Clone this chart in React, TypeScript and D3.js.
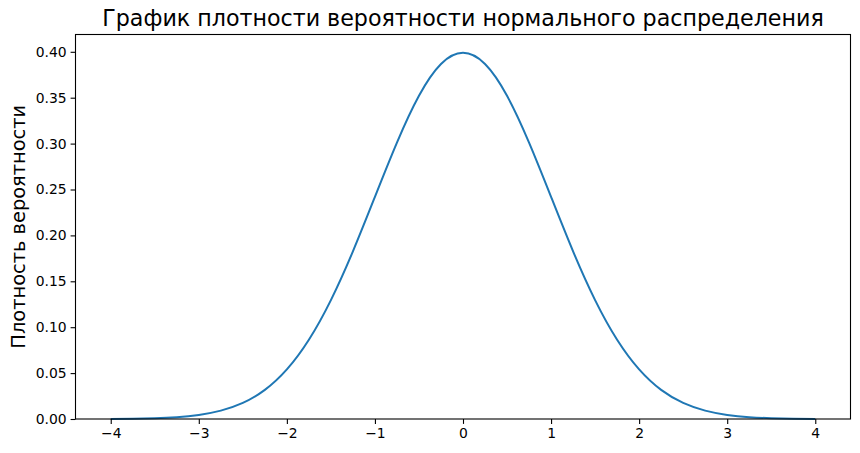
import React, { useRef, useEffect } from "react";
import * as d3 from "d3";

// values, step 0.25
const xValues = [
  -4, -3.75, -3.5, -3.25, -3, -2.75, -2.5, -2.25, -2, -1.75, -1.5, -1.25, -1, -0.75, -0.5, -0.25,
  0, 0.25, 0.5, 0.75, 1, 1.25, 1.5, 1.75, 2, 2.25, 2.5, 2.75, 3, 3.25, 3.5, 3.75, 4,
];
const density = [
  0.0001, 0.0004, 0.0009, 0.002, 0.0044, 0.0091, 0.0175, 0.0317, 0.054, 0.0863, 0.1295, 0.1826,
  0.242, 0.3011, 0.3521, 0.3867, 0.3989, 0.3867, 0.3521, 0.3011, 0.242, 0.1826, 0.1295, 0.0863,
  0.054, 0.0317, 0.0175, 0.0091, 0.0044, 0.002, 0.0009, 0.0004, 0.0001,
];
const xTicks = [-4, -3, -2, -1, 0, 1, 2, 3, 4];
const yTicks = [0, 0.05, 0.1, 0.15, 0.2, 0.25, 0.3, 0.35, 0.4];

const title = "График плотности вероятности нормального распределения";
const yLabel = "Плотность вероятности";

const App = () => {
  const svgRef = useRef<SVGSVGElement>(null);

  useEffect(() => {
    const width = 860;
    const height = 453;
    const margin = { top: 34.5, right: 9.5, bottom: 34, left: 75.5 };
    const font = "DejaVu Sans, sans-serif";

    const svg = d3.select(svgRef.current);
    svg.selectAll("*").remove();
    svg.attr("width", width).attr("height", height);

    const x = d3.scaleLinear().domain([-4.4, 4.4]).range([margin.left, width - margin.right]);
    const y = d3
      .scaleLinear()
      .domain([0, 0.3989 * 1.05])
      .range([height - margin.bottom, margin.top]);

    const line = d3
      .line<number>()
      .x((d, i) => x(xValues[i]))
      .y((d) => y(d))
      .curve(d3.curveNatural);

    svg
      .append("path")
      .datum(density)
      .attr("d", line)
      .attr("fill", "none")
      .attr("stroke", "#1f77b4")
      .attr("stroke-width", 2);

    const xAxis = svg
      .append("g")
      .attr("transform", `translate(0,${height - margin.bottom})`)
      .call(
        d3
          .axisBottom(x)
          .tickValues(xTicks)
          .tickFormat(d3.format("d"))
          .tickSizeInner(4.9)
          .tickSizeOuter(0)
          .tickPadding(4)
      );
    const yAxis = svg
      .append("g")
      .attr("transform", `translate(${margin.left},0)`)
      .call(
        d3
          .axisLeft(y)
          .tickValues(yTicks)
          .tickFormat(d3.format(".2f"))
          .tickSizeInner(4.9)
          .tickSizeOuter(0)
          .tickPadding(4)
      );
    [xAxis, yAxis].forEach((g) => {
      g.select(".domain").remove();
      g.selectAll("line").attr("stroke", "#000").attr("stroke-width", 1.1);
      g.selectAll("text").attr("fill", "#000").attr("font-size", 13.9).attr("font-family", font);
    });

    // frame
    svg
      .append("rect")
      .attr("x", margin.left)
      .attr("y", margin.top)
      .attr("width", width - margin.left - margin.right)
      .attr("height", height - margin.top - margin.bottom)
      .attr("fill", "none")
      .attr("stroke", "#000")
      .attr("stroke-width", 1.1);

    svg
      .append("text")
      .attr("x", (margin.left + width - margin.right) / 2)
      .attr("y", 26.2)
      .attr("text-anchor", "middle")
      .attr("font-family", font)
      .attr("font-size", 22.2)
      .text(title);

    svg
      .append("text")
      .attr("transform", `translate(25,${(margin.top + height - margin.bottom) / 2}) rotate(-90)`)
      .attr("text-anchor", "middle")
      .attr("font-family", font)
      .attr("font-size", 19.4)
      .text(yLabel);
  }, []);

  return (
    <div style={{ position: "absolute", left: 0, top: 0 }}>
      <svg ref={svgRef}></svg>
    </div>
  );
};

export default App;
